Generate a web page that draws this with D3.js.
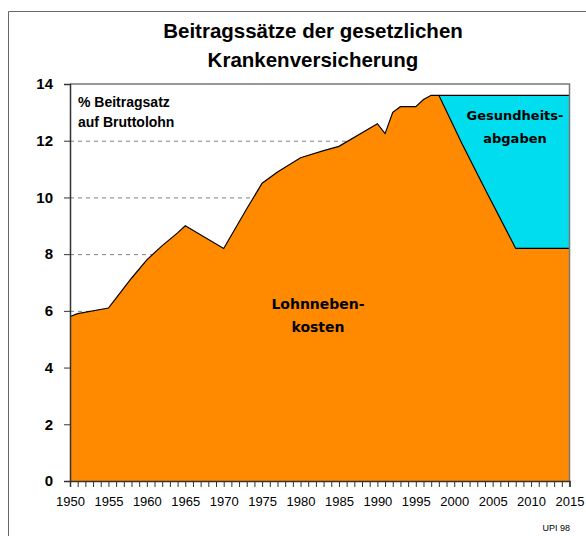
<!DOCTYPE html>
<html><head><meta charset="utf-8">
<script src="https://cdn.jsdelivr.net/npm/d3@7"></script>
<style>
html,body{margin:0;padding:0;background:#fff;}
svg{display:block;}
</style></head>
<body>
<svg id="c" width="586" height="536"></svg>
<script>
// Data
const years = [1950,1951,1955,1956,1957,1958,1960,1962,1964,1965,1970,1973,1975,1977,1980,1983,1985,1990,1991,1992,1993,1995,1996,1997,1998,2001,2004,2008,2015];
const lohnnebenkosten = [5.8,5.9,6.1,6.45,6.8,7.15,7.8,8.3,8.75,9.0,8.2,9.6,10.5,10.9,11.4,11.65,11.8,12.6,12.25,13.0,13.2,13.2,13.45,13.6,13.6,11.9,10.3,8.2,8.2];
const gesundYears = [1998,2001,2004,2008,2015];
const gesundheitsabgaben = [0,1.7,3.3,5.4,5.4];
const yTicks = [0,2,4,6,8,10,12,14];
const gridValues = [6,8,10,12];
const xTickYears = d3.range(1950,2016,1);
const titleLines = ["Beitragssätze der gesetzlichen","Krankenversicherung"];
const yLabelLines = ["% Beitragsatz","auf Bruttolohn"];
const lohnLabel = ["Lohnneben-","kosten"];
const gesundLabel = ["Gesundheits-","abgaben"];
const sourceNote = "UPI 98";

const svg = d3.select("#c");
const x = d3.scaleLinear().domain([1950,2015]).range([70,569.5]);
const y = d3.scaleLinear().domain([0,14]).range([481,84]);

// outer frame
svg.append("path").attr("d","M8.5,536 V11.5 H586").attr("fill","none").attr("stroke","#666").attr("stroke-width",1);

// title
const tt = svg.append("text").attr("text-anchor","middle")
  .attr("font-family","Liberation Sans, Arial, sans-serif").attr("font-weight","bold").attr("font-size",20.5).attr("fill","#000");
titleLines.forEach((t,i)=>tt.append("tspan").attr("x",313).attr("y",38+i*29).text(t));

// gridlines
svg.append("g").selectAll("line").data(gridValues).join("line")
  .attr("x1",x(1950)).attr("x2",x(2015)).attr("y1",d=>y(d)+0.5).attr("y2",d=>y(d)+0.5)
  .attr("stroke","#808080").attr("stroke-width",1).attr("stroke-dasharray","4,4");

// areas
const lohnData = years.map((yr,i)=>({yr, v:lohnnebenkosten[i]}));
const area = d3.area().x(d=>x(d.yr)).y0(y(0)).y1(d=>y(d.v));
svg.append("path").datum(lohnData).attr("d",area).attr("fill","#FF8A00");

const gData = gesundYears.map((yr,i)=>{const base = lohnnebenkosten[years.indexOf(yr)]; return {yr, b:base, t:base+gesundheitsabgaben[i]};});
const gArea = d3.area().x(d=>x(d.yr)).y0(d=>y(d.b)).y1(d=>y(d.t));
svg.append("path").datum(gData).attr("d",gArea).attr("fill","#00DDEE");

// outline lines
const line = d3.line().x(d=>x(d.yr)).y(d=>y(d.v));
svg.append("path").datum(lohnData).attr("d",line).attr("fill","none").attr("stroke","#000").attr("stroke-width",1.2);
svg.append("path").datum(gData.map(d=>({yr:d.yr,v:d.t}))).attr("d",line).attr("fill","none").attr("stroke","#000").attr("stroke-width",1.2);

// plot frame top/right
svg.append("path").attr("d",`M${x(1950)},${y(14)} H${x(2015)} V${y(0)}`).attr("fill","none").attr("stroke","#777").attr("stroke-width",1.5);

// axes
const xAxis = d3.axisBottom(x).tickValues(xTickYears).tickSize(6)
  .tickFormat(d=> d%5===0 ? String(d) : "");
const gx = svg.append("g").attr("transform",`translate(0,${y(0)})`).call(xAxis);
gx.select(".domain").attr("stroke","#333").attr("stroke-width",1.5);
gx.selectAll(".tick line").attr("stroke","#333");
gx.selectAll("text").attr("font-family","Liberation Sans Narrow, Arial Narrow, Liberation Sans, sans-serif")
  .attr("font-size",13).attr("fill","#000").attr("dy","1.2em");

const yAxis = d3.axisLeft(y).tickValues(yTicks).tickSize(6).tickFormat(d3.format("d"));
const gy = svg.append("g").attr("transform",`translate(${x(1950)},0)`).call(yAxis);
gy.select(".domain").attr("stroke","#333").attr("stroke-width",1.5);
gy.selectAll(".tick line").attr("stroke","#333");
gy.selectAll("text").attr("font-family","Liberation Sans Narrow, Arial Narrow, Liberation Sans, sans-serif")
  .attr("font-weight","bold").attr("font-size",15).attr("fill","#000").attr("x",-17);

// labels
const yl = svg.append("text").attr("font-family","Liberation Sans Narrow, Arial Narrow, Liberation Sans, sans-serif")
  .attr("font-weight","bold").attr("font-size",14).attr("fill","#000");
yLabelLines.forEach((t,i)=>yl.append("tspan").attr("x",78).attr("y",107+i*20).text(t));

const ll = svg.append("text").attr("text-anchor","middle").attr("font-family","DejaVu Sans, Verdana, sans-serif")
  .attr("font-weight","bold").attr("font-size",14).attr("fill","#000");
lohnLabel.forEach((t,i)=>ll.append("tspan").attr("x",318).attr("y",309+i*23).text(t));

const gl = svg.append("text").attr("text-anchor","middle").attr("font-family","DejaVu Sans, Verdana, sans-serif")
  .attr("font-weight","bold").attr("font-size",13).attr("fill","#000");
gesundLabel.forEach((t,i)=>gl.append("tspan").attr("x",515).attr("y",120+i*23).text(t));

svg.append("text").attr("x",570).attr("y",531).attr("text-anchor","end")
  .attr("font-family","Liberation Sans Narrow, Arial Narrow, sans-serif").attr("font-size",9).attr("fill","#000").text(sourceNote);
</script>
</body></html>
